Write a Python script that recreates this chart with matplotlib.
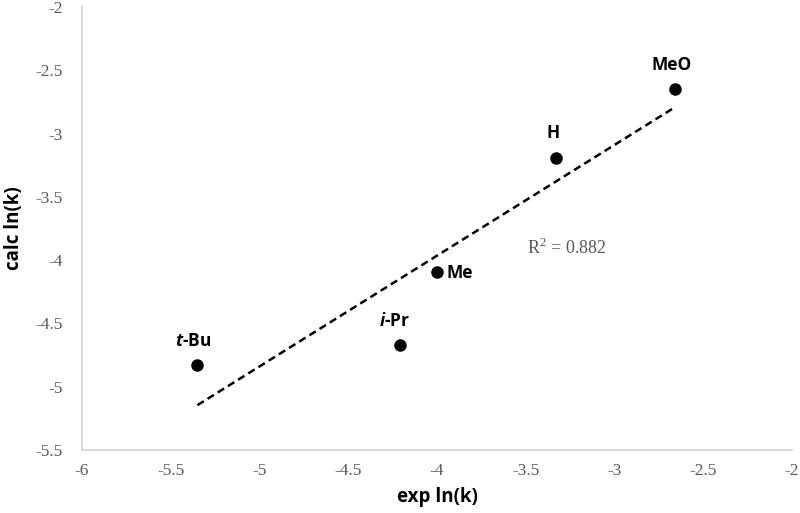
import numpy as np
import matplotlib
matplotlib.use("agg")
import matplotlib.pyplot as plt

matplotlib.rcParams.update({"mathtext.fontset": "custom",
                            "mathtext.bfit": "Open Sans:italic:bold",
                            "mathtext.rm": "Liberation Serif"})

# Data
names = ["t-Bu", "i-Pr", "Me", "H", "MeO"]
labels = [r"$\mathbfit{t}$-Bu", r"$\mathbfit{i}$-Pr", "Me", "H", "MeO"]
exp_lnk = [-5.35, -4.21, -4.00, -3.33, -2.66]
calc_lnk = [-4.83, -4.67, -4.09, -3.19, -2.65]
# label offsets (points) relative to each dot
offsets = [(-3, 11), (-4, 11), (7, -1), (-2, 11), (-2, 11)]
aligns = ["center", "center", "left", "center", "center"]

xticks = np.arange(-6, -1.99, 0.5)
yticks = np.arange(-5.5, -1.99, 0.5)

fig = plt.figure(figsize=(8, 5.13), dpi=100)
ax = fig.add_axes([0.1025, 0.1228, 0.8875, 0.8636])

ax.plot(exp_lnk, calc_lnk, 'o', color='black', markersize=8, zorder=3)

# linear trendline over the data range
m, b = np.polyfit(exp_lnk, calc_lnk, 1)
xs = np.array([min(exp_lnk), max(exp_lnk)])
ax.plot(xs, m*xs + b, color='black', lw=1.8, linestyle=(0, (3, 1.8)))

for x, y, lab, off, ha in zip(exp_lnk, calc_lnk, labels, offsets, aligns):
    va = 'bottom' if off[1] > 0 else 'center'
    ax.annotate(lab, (x, y), xytext=off, textcoords='offset points',
                ha=ha, va=va, fontsize=12.5, fontweight='bold', family='Open Sans')

ax.text(-3.27, -3.9, r"R$^2$ = 0.882", ha='center', va='center',
        fontsize=13, family='Liberation Serif', color='#595959')

ax.set_xlim(-6, -2)
ax.set_ylim(-5.5, -2)
ax.set_xticks(xticks)
ax.set_yticks(yticks)
ax.set_xticklabels(["{:g}".format(t) for t in xticks])
ax.set_yticklabels(["{:g}".format(t) for t in yticks])
ax.tick_params(length=0, labelsize=12.5, labelcolor='#595959')
ax.tick_params(axis='y', pad=14)
ax.tick_params(axis='x', pad=9)
for lab in ax.get_xticklabels() + ax.get_yticklabels():
    lab.set_family('Liberation Serif')

for s in ['top', 'right']:
    ax.spines[s].set_visible(False)
for s in ['left', 'bottom']:
    ax.spines[s].set_color('#d9d9d9')
    ax.spines[s].set_linewidth(1.5)

ax.set_xlabel("exp ln(k)", fontsize=13.5, fontweight='bold', family='Open Sans', labelpad=6)
ax.set_ylabel("calc ln(k)", fontsize=13.5, fontweight='bold', family='Open Sans', labelpad=8)

fig.savefig("out.png", dpi=100)
